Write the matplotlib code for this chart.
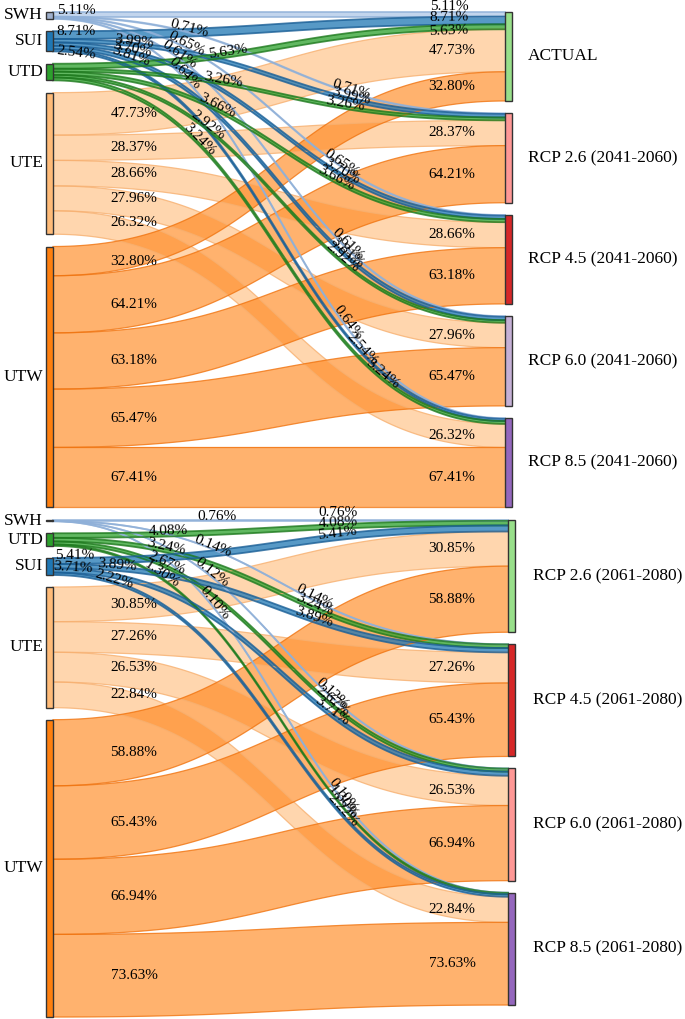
import numpy as np
import matplotlib.pyplot as plt

plt.rcParams['font.family'] = ['Liberation Serif', 'DejaVu Serif']

# share (%) of each class that goes to each scenario, 2041-2060 panel
top_sources = ["SWH", "SUI", "UTD", "UTE", "UTW"]
top_targets = ["ACTUAL", "RCP 2.6 (2041-2060)", "RCP 4.5 (2041-2060)",
               "RCP 6.0 (2041-2060)", "RCP 8.5 (2041-2060)"]
top_swh = [5.11, 0.71, 0.65, 0.61, 0.64]
top_sui = [8.71, 3.99, 3.70, 3.81, 2.54]
top_utd = [5.63, 3.26, 3.66, 2.92, 3.24]
top_ute = [47.73, 28.37, 28.66, 27.96, 26.32]
top_utw = [32.80, 64.21, 63.18, 65.47, 67.41]

# 2061-2080 panel
bot_sources = ["SWH", "UTD", "SUI", "UTE", "UTW"]
bot_targets = ["RCP 2.6 (2061-2080)", "RCP 4.5 (2061-2080)",
               "RCP 6.0 (2061-2080)", "RCP 8.5 (2061-2080)"]
bot_swh = [0.76, 0.14, 0.12, 0.10]
bot_utd = [4.08, 3.24, 2.67, 1.30]
bot_sui = [5.41, 3.89, 3.71, 2.22]
bot_ute = [30.85, 27.26, 26.53, 22.84]
bot_utw = [58.88, 65.43, 66.94, 73.63]

src_colors = {"SWH": "#aec7e8", "SUI": "#1f77b4", "UTD": "#2ca02c",
              "UTE": "#ffbb78", "UTW": "#ff7f0e"}
edge_colors = {"SWH": "#8fb0d8", "SUI": "#1a5f96", "UTD": "#1e7a1e",
               "UTE": "#f7b070", "UTW": "#f07410"}
node_colors = {"SWH": "#9fb0cc", "SUI": "#1f77b4", "UTD": "#2ca02c",
               "UTE": "#ffbb78", "UTW": "#ff7f0e"}
top_tcolors = ["#98df8a", "#ff9896", "#d62728", "#c5b0d5", "#9467bd"]
bot_tcolors = ["#98df8a", "#d62728", "#ff9896", "#9467bd"]

# where the small-flow labels sit along their curves (x in pixels)
top_left_lx = {"SWH": [76, 188, 185, 177, 182], "SUI": [76, 134, 131, 130, 76],
               "UTD": [228, 223, 216, 206, 197]}
top_right_lx = {"SWH": [449, 350, 340, 345, 345], "SUI": [449, 350, 340, 345, 360],
                "UTD": [449, 345, 335, 340, 380]}
bot_left_lx = {"SWH": [217, 212, 210, 212], "UTD": [168, 165, 165, 160],
               "SUI": [75, 117, 73, 113]}
bot_right_lx = {"SWH": [338, 313, 330, 340], "UTD": [338, 313, 330, 340],
                "SUI": [338, 313, 330, 340]}
top_nudge = {("SWH", 0, "R"): -4, ("UTD", 0, "R"): 7, ("SUI", 4, "L"): 5}
bot_nudge = {("SWH", 0, "R"): -4, ("SUI", 0, "L"): -2}


def bez(x0, ya, x1, yb, n=120):
    t = np.linspace(0, 1, n)
    xm = (x0 + x1) / 2
    x = (1 - t)**3 * x0 + 3 * (1 - t)**2 * t * xm + 3 * (1 - t) * t**2 * xm + t**3 * x1
    y = ya + (yb - ya) * (3 * t**2 - 2 * t**3)
    return x, y


def sankey(ax, sources, targets, flows, y0, scale, gap, xl, xr, tcolors,
           left_lx, right_lx, nudge, rlabel_x):
    nw = 7
    flows = np.array(flows)
    ns, nt = flows.shape
    # node positions
    s_top = []
    y = y0
    for i in range(ns):
        s_top.append(y)
        y += flows[i].sum() * scale + gap
    t_top = []
    y = y0
    for j in range(nt):
        t_top.append(y)
        y += flows[:, j].sum() * scale + gap

    # link ends
    s_off = list(s_top)
    links = []
    for i in range(ns):
        for j in range(nt):
            h = flows[i, j] * scale
            a0 = s_off[i]
            b0 = t_top[j] + flows[:i, j].sum() * scale
            links.append((i, j, a0, a0 + h, b0, b0 + h))
            s_off[i] += h

    x0, x1 = xl + nw, xr
    order = [k for k, s in enumerate(sources) if s in ("UTE", "UTW")] + \
            [k for k, s in enumerate(sources) if s not in ("UTE", "UTW")]
    for i in order:
        name = sources[i]
        big = name in ("UTE", "UTW")
        for (ii, j, a0, a1, b0, b1) in links:
            if ii != i:
                continue
            xa, ya = bez(x0, a0, x1, b0)
            xb, yb = bez(x0, a1, x1, b1)
            ax.fill(np.r_[xa, xb[::-1]], np.r_[ya, yb[::-1]],
                    color=src_colors[name], alpha=0.6 if big else 0.75, lw=0, zorder=2)
            lw = 0.9 if big else 1.3
            ax.plot(xa, ya, color=edge_colors[name], lw=lw, alpha=0.8, zorder=3)
            ax.plot(xb, yb, color=edge_colors[name], lw=lw, alpha=0.8, zorder=3)

    # link labels
    for (i, j, a0, a1, b0, b1) in links:
        name = sources[i]
        txt = f"{flows[i, j]:.2f}%"
        if name in ("UTE", "UTW"):
            ax.text(134, (a0 + a1) / 2, txt, ha='center', va='center', fontsize=11, zorder=6)
            ax.text(452, (b0 + b1) / 2, txt, ha='center', va='center', fontsize=11, zorder=6)
            continue
        xc, yc = bez(x0, (a0 + a1) / 2, x1, (b0 + b1) / 2, 400)
        slope = np.gradient(yc, xc)
        for side, lx in (("L", left_lx[name][j]), ("R", right_lx[name][j])):
            ly = np.interp(lx, xc, yc) + nudge.get((name, j, side), 0)
            ang = np.degrees(np.arctan(-np.interp(lx, xc, slope)))
            ax.text(lx, ly, txt, ha='center', va='baseline', rotation=ang,
                    rotation_mode='anchor', fontsize=11, zorder=6)

    # nodes
    for i in range(ns):
        h = max(flows[i].sum() * scale, 1.2)
        ax.add_patch(plt.Rectangle((xl, s_top[i]), nw, h, fc=node_colors[sources[i]],
                                   ec='#333333', lw=1, zorder=5))
        ax.text(xl - 3, s_top[i] + h / 2, sources[i], ha='right', va='center',
                fontsize=12.5, zorder=6)
    for j in range(nt):
        h = flows[:, j].sum() * scale
        ax.add_patch(plt.Rectangle((xr, t_top[j]), nw, h, fc=tcolors[j],
                                   ec='#333333', lw=1, zorder=5))
        ax.text(rlabel_x, t_top[j] + h / 2, targets[j], ha='left', va='center',
                fontsize=12.5, zorder=6)


fig = plt.figure(figsize=(6.85, 10.19), dpi=100)
ax = fig.add_axes([0, 0, 1, 1])
ax.set_xlim(0, 685)
ax.set_ylim(1019, 0)
ax.axis('off')

sankey(ax, top_sources, top_targets, [top_swh, top_sui, top_utd, top_ute, top_utw],
       12, 0.89, 12.3, 46, 505, top_tcolors, top_left_lx, top_right_lx, top_nudge, 528)
sankey(ax, bot_sources, bot_targets, [bot_swh, bot_utd, bot_sui, bot_ute, bot_utw],
       520, 1.1226, 12, 46, 508, bot_tcolors, bot_left_lx, bot_right_lx, bot_nudge, 533)

fig.savefig("out.png", dpi=100)
